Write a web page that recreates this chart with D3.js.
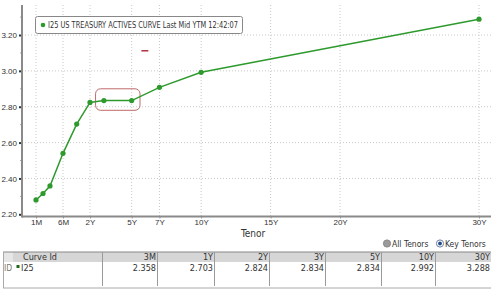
<!DOCTYPE html>
<html><head><meta charset="utf-8">
<script src="https://cdn.jsdelivr.net/npm/d3@7"></script>
<style>
html,body{margin:0;padding:0;background:#fff;}
svg{display:block;font-family:"DejaVu Sans Condensed","Liberation Sans",Arial,sans-serif;}
</style></head>
<body>
<svg id="c" width="491" height="289"></svg>
<script>
// ---- data ----
const tenorYears = [1/12, 2/12, 3/12, 0.5, 1, 2, 3, 5, 7, 10, 30];
const yields     = [2.280, 2.316, 2.358, 2.540, 2.703, 2.824, 2.834, 2.834, 2.908, 2.992, 3.288];
const xTickYears  = [1/12, 0.5, 2, 5, 7, 10, 15, 20, 30];
const xTickLabels = ["1M", "6M", "2Y", "5Y", "7Y", "10Y", "15Y", "20Y", "30Y"];
const yTicks = [2.20, 2.40, 2.60, 2.80, 3.00, 3.20];
const yMinorTicks = [2.30, 2.50, 2.70, 2.90, 3.10, 3.30];
const tableHeaders = ["3M", "1Y", "2Y", "3Y", "5Y", "10Y", "30Y"];
const tableValues  = [2.358, 2.703, 2.824, 2.834, 2.834, 2.992, 3.288];
const legendText = "I25 US TREASURY ACTIVES CURVE Last Mid YTM 12:42:07";
const curveId = "I25";

(function () {
const svg = d3.select("#c");
const green = "#2e9a2e";
const pLeft = 22, pRight = 491, pTop = 5, pBottom = 216.5;

// piecewise x scale (Bloomberg compresses the short end)
const x = d3.scaleLinear()
  .domain([1/12, 0.25, 0.5, 1, 2, 30])
  .range([36, 50, 63, 76.7, 90, 479]);
const y = d3.scaleLinear().domain([2.2, 3.2]).range([214.3, 35]);

// grid
const grid = svg.append("g").attr("stroke", "#c8c8c8").attr("stroke-dasharray", "1,2");
grid.selectAll("line.v").data(xTickYears).join("line").attr("class", "v")
  .attr("x1", d => x(d)).attr("x2", d => x(d)).attr("y1", pTop).attr("y2", pBottom);
grid.selectAll("line.h").data(yTicks.slice(1)).join("line").attr("class", "h")
  .attr("x1", pLeft).attr("x2", pRight).attr("y1", d => y(d)).attr("y2", d => y(d));

// y axis
const yAxis = svg.append("g").attr("transform", `translate(${pLeft},0)`)
  .call(d3.axisLeft(y).tickValues(yTicks).tickFormat(d3.format(".2f")).tickSize(3).tickPadding(2));
yAxis.select(".domain").remove();
yAxis.selectAll(".tick line").attr("stroke", "#333").attr("stroke-width", 2);
yAxis.selectAll("text").attr("fill", "#333").style("font-size", "8px");
svg.append("g").selectAll("line").data(yMinorTicks).join("line")
  .attr("x1", pLeft - 1.5).attr("x2", pLeft).attr("y1", d => y(d)).attr("y2", d => y(d))
  .attr("stroke", "#555").attr("stroke-width", 1);
svg.append("line").attr("x1", pLeft).attr("x2", pLeft).attr("y1", pTop).attr("y2", pBottom + 1)
  .attr("stroke", "#8a8a8a").attr("stroke-width", 2);

// x axis
const xAxis = svg.append("g").attr("transform", `translate(0,${pBottom})`)
  .call(d3.axisBottom(x).tickValues(xTickYears).tickFormat((d, i) => xTickLabels[i]).tickSize(2).tickPadding(1));
xAxis.select(".domain").remove();
xAxis.selectAll(".tick line").attr("stroke", "#999");
xAxis.selectAll("text").attr("fill", "#333").style("font-size", "8px");
svg.append("line").attr("x1", pLeft).attr("x2", pRight).attr("y1", pBottom).attr("y2", pBottom)
  .attr("stroke", "#8a8a8a").attr("stroke-width", 2);
svg.append("text").attr("x", 241).attr("y", 237).attr("fill", "#333")
  .style("font-size", "10px").text("Tenor");

// annotations
svg.append("rect").attr("x", x(2.4)).attr("y", y(2.900)).attr("width", x(5.6) - x(2.4))
  .attr("height", y(2.780) - y(2.900)).attr("rx", 5)
  .attr("fill", "none").attr("stroke", "#c06a6a").attr("stroke-width", 1);
svg.append("line").attr("x1", x(5.7)).attr("x2", x(6.2)).attr("y1", y(3.112)).attr("y2", y(3.112))
  .attr("stroke", "#b03040").attr("stroke-width", 1.5);

// line + points
const pts = tenorYears.map((t, i) => [t, yields[i]]);
svg.append("path").datum(pts)
  .attr("d", d3.line().x(d => x(d[0])).y(d => y(d[1])))
  .attr("fill", "none").attr("stroke", green).attr("stroke-width", 1.5);
svg.append("g").selectAll("circle").data(pts).join("circle")
  .attr("cx", d => x(d[0])).attr("cy", d => y(d[1])).attr("r", 2.6).attr("fill", green);

// legend
svg.append("rect").attr("x", 35.5).attr("y", 16.5).attr("width", 207).attr("height", 17)
  .attr("rx", 2).attr("fill", "#fff").attr("stroke", "#888");
svg.append("circle").attr("cx", 43).attr("cy", 25).attr("r", 2.3).attr("fill", green);
svg.append("text").attr("x", 48).attr("y", 28.3).attr("fill", "#333")
  .attr("textLength", 190).attr("lengthAdjust", "spacingAndGlyphs")
  .style("font-size", "9px").text(legendText);

// radio options
const radios = [{label: "All Tenors", cx: 387, on: false},
                {label: "Key Tenors", cx: 440, on: true}];
radios.forEach(r => {
  svg.append("circle").attr("cx", r.cx).attr("cy", 243.5).attr("r", 3.6)
    .attr("fill", r.on ? "#fff" : "#9a9a9a").attr("stroke", r.on ? "#6a7fa6" : "#888");
  if (r.on) svg.append("circle").attr("cx", r.cx).attr("cy", 243.5).attr("r", 1.9).attr("fill", "#234a8a");
  svg.append("text").attr("x", r.cx + 5).attr("y", 247).attr("fill", "#333")
    .style("font-size", "8.5px").text(r.label);
});

// table
const tTop = 252, hH = 10, tBot = 288, tLeft = 3;
const colEdges = [102, 157, 214, 269, 325, 381, 435, 491];
svg.append("rect").attr("x", tLeft).attr("y", tTop).attr("width", pRight - tLeft).attr("height", hH)
  .attr("fill", "#d6d6d6");
svg.append("rect").attr("x", tLeft).attr("y", tTop).attr("width", 10).attr("height", hH)
  .attr("fill", "#e6e6e6");
svg.append("line").attr("x1", tLeft).attr("x2", pRight).attr("y1", tTop).attr("y2", tTop).attr("stroke", "#888");
svg.append("line").attr("x1", tLeft).attr("x2", pRight).attr("y1", tBot).attr("y2", tBot).attr("stroke", "#aaa");
svg.append("line").attr("x1", tLeft + 0.5).attr("x2", tLeft + 0.5).attr("y1", tTop).attr("y2", tBot).attr("stroke", "#aaa");
svg.append("g").selectAll("line").data(colEdges.slice(0, -1)).join("line")
  .attr("x1", d => d + 0.5).attr("x2", d => d + 0.5).attr("y1", tTop).attr("y2", tBot - 2)
  .attr("stroke", "#9a9a9a");
svg.append("text").attr("x", 23).attr("y", tTop + 8.3).attr("fill", "#333").style("font-size", "9px").text("Curve Id");
svg.append("text").attr("x", 4).attr("y", tTop + 18.5).attr("fill", "#7a7a6a").style("font-size", "8.5px").text("ID");
svg.append("rect").attr("x", 16.5).attr("y", tTop + 13).attr("width", 3).attr("height", 3).attr("fill", "#1a6a1a");
svg.append("text").attr("x", 21).attr("y", tTop + 18.5).attr("fill", "#333").style("font-size", "9px").text(curveId);
tableHeaders.forEach((h, i) => {
  svg.append("text").attr("x", colEdges[i + 1] - 1).attr("y", tTop + 8.3).attr("text-anchor", "end")
    .attr("fill", "#333").style("font-size", "9px").text(h);
  svg.append("text").attr("x", colEdges[i + 1] - 1).attr("y", tTop + 18.5).attr("text-anchor", "end")
    .attr("fill", "#333").style("font-size", "9px").text(d3.format(".3f")(tableValues[i]));
});
})();
</script>
</body></html>
